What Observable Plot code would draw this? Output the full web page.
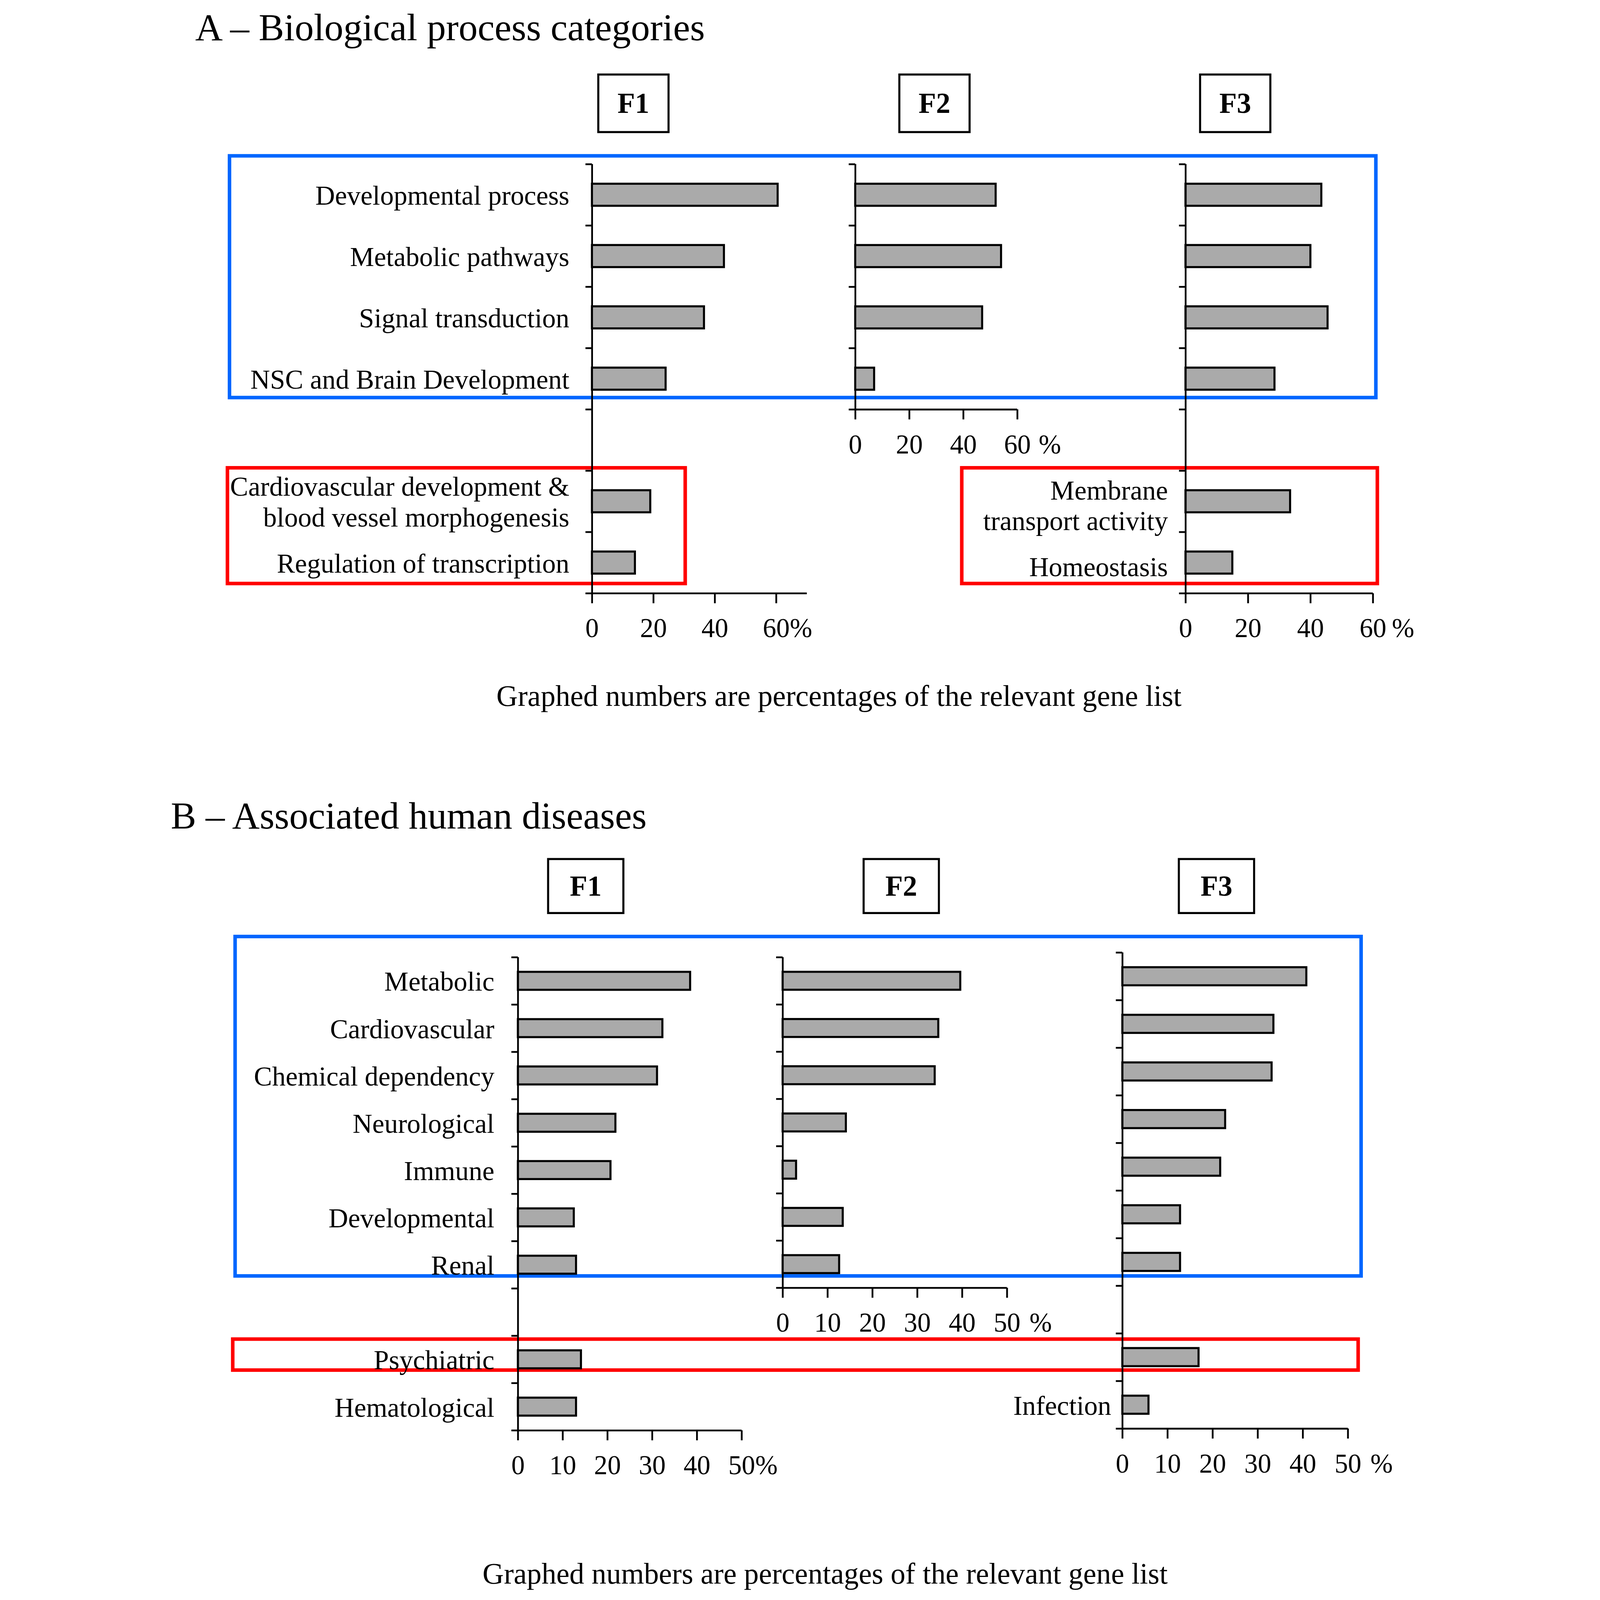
<!DOCTYPE html>
<html>
<head>
<meta charset="utf-8">
<script src="https://cdn.jsdelivr.net/npm/d3@7"></script>
<script src="https://cdn.jsdelivr.net/npm/@observablehq/plot@0.6"></script>
<style>
html, body { margin: 0; padding: 0; background: #fff; overflow: hidden; }
#page { position: relative; width: 4319px; height: 5421px; background: #fff; overflow: hidden;
  transform-origin: 0 0;
  font-family: 'Liberation Serif', 'Times New Roman', serif; color: #000; }
.abs { position: absolute; }
.title { font-size: 129px; line-height: 1; white-space: nowrap; }
.caption { font-size: 100px; line-height: 1; white-space: nowrap; transform: translateX(-50%); }
.fbox { box-sizing: border-box; border: 7px solid #000; display: flex; align-items: center;
  justify-content: center; font-weight: bold; font-size: 97px; line-height: 1; background: #fff; }
.blue { box-sizing: border-box; border: 12px solid #0066ff; }
.red { box-sizing: border-box; border: 12px solid #ff0000; }
svg.plotpanel { position: absolute; }
</style>
</head>
<body>
<div id="page"></div>
<script>
// ---------------- DATA ----------------
const panelTitles = ["A \u2013 Biological process categories", "B \u2013 Associated human diseases"];
const fractionNames = ["F1", "F2", "F3"];
const captionText = "Graphed numbers are percentages of the relevant gene list";

// Panel A: biological process categories (% of gene list)
const bpCategories = ["Developmental process", "Metabolic pathways", "Signal transduction", "NSC and Brain Development"];
const bpF1 = [60.5, 43, 36.5, 24];
const bpF2 = [52, 54, 47, 7];
const bpF3 = [43.5, 40, 45.5, 28.5];
const bpF1ExtraCategories = ["Cardiovascular development &\nblood vessel morphogenesis", "Regulation of transcription"];
const bpF1Extra = [19, 14];
const bpF3ExtraCategories = ["Membrane\ntransport activity", "Homeostasis"];
const bpF3Extra = [33.5, 15];
const bpTicks = [0, 20, 40, 60];

// Panel B: associated human diseases (% of gene list)
const disCategories = ["Metabolic", "Cardiovascular", "Chemical dependency", "Neurological", "Immune", "Developmental", "Renal"];
const disF1 = [38.5, 32.3, 31.1, 21.8, 20.7, 12.5, 13.0];
const disF2 = [39.6, 34.7, 33.9, 14.1, 3.0, 13.4, 12.6];
const disF3 = [40.8, 33.5, 33.1, 22.8, 21.7, 12.8, 12.8];
const disF1ExtraCategories = ["Psychiatric", "Hematological"];
const disF1Extra = [14.1, 13.0];
const disF3ExtraCategories = ["Psychiatric", "Infection"];
const disF3Extra = [16.9, 5.8];
const disTicks = [0, 10, 20, 30, 40, 50];

// ---------------- BUILD ----------------
const FIG_W = 4319, FIG_H = 5421;
const page = document.getElementById("page");

// fit the whole figure into the actual viewport (no-op when it is 4319x5421)
function fit() {
  const s = Math.min(window.innerWidth / FIG_W, window.innerHeight / FIG_H, 1);
  page.style.transform = "scale(" + s + ")";
  page.style.marginLeft = Math.max(0, (window.innerWidth - FIG_W * s) / 2) + "px";
}
fit();

function buildRows(top, topVals, extra, extraVals) {
  const rows = top.map((c, i) => ({category: c, value: topVals[i], row: i, extra: false}));
  if (extra) extra.forEach((c, j) => rows.push({category: c, value: extraVals[j], row: top.length + 1 + j, extra: true}));
  return rows;
}

function drawPanel(s) {
  const n = s.n;
  const mL = s.marginLeft, mR = 190, mT = 24, mB = 210;
  const plotW = s.xmax * s.pxPer;
  const width = mL + plotW + mR;
  const height = mT + n * s.step + mB;
  const labels = s.rows.filter(s.labelFilter);
  const last = s.ticks[s.ticks.length - 1];
  const svg = Plot.plot({
    width, height,
    marginLeft: mL, marginRight: mR, marginTop: mT, marginBottom: mB,
    style: {background: "transparent", overflow: "visible", color: "#000", maxWidth: "none",
            fontFamily: "'Liberation Serif', 'Times New Roman', serif"},
    x: {domain: [0, s.xmax], range: [mL, mL + plotW], label: null},
    y: {domain: [0, n], range: [mT, mT + n * s.step], label: null},
    marks: [
      Plot.rect(s.rows, {x1: 0, x2: "value", y1: d => d.row + s.inset, y2: d => d.row + 1 - s.inset,
        fill: "#aaaaaa", stroke: "#000", strokeWidth: 7}),
      Plot.ruleX([0], {y1: 0, y2: n, stroke: "#000", strokeWidth: 6}),
      Plot.ruleY([n], {x1: 0, x2: s.xmax, stroke: "#000", strokeWidth: 6}),
      Plot.axisY({ticks: d3.range(n + 1), tickSize: 22, tickFormat: () => "", strokeWidth: 6, label: null}),
      Plot.axisX({ticks: s.ticks, tickSize: 34, tickPadding: 50, fontSize: 91, strokeWidth: 6,
        label: null, tickFormat: d => String(d)}),
      Plot.text([last], {x: d => d, frameAnchor: "bottom", dy: 84, dx: 46 + s.pctGap,
        textAnchor: "start", lineAnchor: "top", text: () => "%", fontSize: 91}),
      Plot.text(labels, {x: 0, y: d => d.row + 0.5, text: "category", textAnchor: "end",
        dx: -s.labelGap, dy: s.labelDy || 0, fontSize: 92, lineHeight: 1.13})
    ]
  });
  svg.classList.add("plotpanel");
  svg.style.left = (s.axisX - mL) + "px";
  svg.style.top = (s.yTop - mT) + "px";
  page.appendChild(svg);
}

function addDiv(cls, left, top, w, h, text) {
  const d = document.createElement("div");
  d.className = "abs " + cls;
  d.style.left = left + "px";
  d.style.top = top + "px";
  if (w != null) d.style.width = w + "px";
  if (h != null) d.style.height = h + "px";
  if (text != null) d.textContent = text;
  page.appendChild(d);
  return d;
}

// highlight boxes (behind plots)
addDiv("blue", 221, 522, 3896, 831);
addDiv("red", 214, 1579, 1563, 404);
addDiv("red", 2702, 1579, 1420, 404);
addDiv("blue", 240, 3167, 3827, 1162);
addDiv("red", 232, 4531, 3825, 117);

// titles and captions
addDiv("title", 111, 28, null, null, panelTitles[0]);
addDiv("title", 28, 2699, null, null, panelTitles[1]);
addDiv("caption", 2292, 2309, null, null, captionText);
addDiv("caption", 2245, 5282, null, null, captionText);

// fraction boxes
[1473, 2493, 3512].forEach((x, i) => addDiv("fbox", x, 249, 245, 202, fractionNames[i]));
[1303, 2372, 3440].forEach((x, i) => addDiv("fbox", x, 2907, 262, 190, fractionNames[i]));

// Panel A
drawPanel({rows: buildRows(bpCategories, bpF1, bpF1ExtraCategories, bpF1Extra), n: 7,
  axisX: 1455, yTop: 556, step: 207.7, pxPer: 10.4, xmax: 70, ticks: bpTicks, pctGap: 0,
  labelGap: 77, marginLeft: 1300, inset: 0.32, labelFilter: () => true});
drawPanel({rows: buildRows(bpCategories, bpF2), n: 4,
  axisX: 2347, yTop: 556, step: 207.75, pxPer: 9.15, xmax: 60, ticks: bpTicks, pctGap: 26,
  labelGap: 60, marginLeft: 60, inset: 0.32, labelFilter: () => false});
drawPanel({rows: buildRows(bpCategories, bpF3, bpF3ExtraCategories, bpF3Extra), n: 7,
  axisX: 3466, yTop: 556, step: 207.7, pxPer: 10.58, xmax: 60, ticks: bpTicks, pctGap: 18,
  labelGap: 60, labelDy: 12, marginLeft: 760, inset: 0.32, labelFilter: d => d.extra});

// Panel B
drawPanel({rows: buildRows(disCategories, disF1, disF1ExtraCategories, disF1Extra), n: 10,
  axisX: 1204, yTop: 3243, step: 160.3, pxPer: 15.16, xmax: 50, ticks: disTicks, pctGap: 0,
  labelGap: 80, marginLeft: 960, inset: 0.31, labelFilter: () => true});
drawPanel({rows: buildRows(disCategories, disF2), n: 7,
  axisX: 2101, yTop: 3243, step: 160, pxPer: 15.2, xmax: 50, ticks: disTicks, pctGap: 30,
  labelGap: 60, marginLeft: 60, inset: 0.31, labelFilter: () => false});
drawPanel({rows: buildRows(disCategories, disF3, disF3ExtraCategories, disF3Extra), n: 10,
  axisX: 3252, yTop: 3227, step: 161.3, pxPer: 15.28, xmax: 50, ticks: disTicks, pctGap: 30,
  labelGap: 38, marginLeft: 440, inset: 0.31,
  labelFilter: d => d.extra && !disF1ExtraCategories.includes(d.category)});
</script>
</body>
</html>
